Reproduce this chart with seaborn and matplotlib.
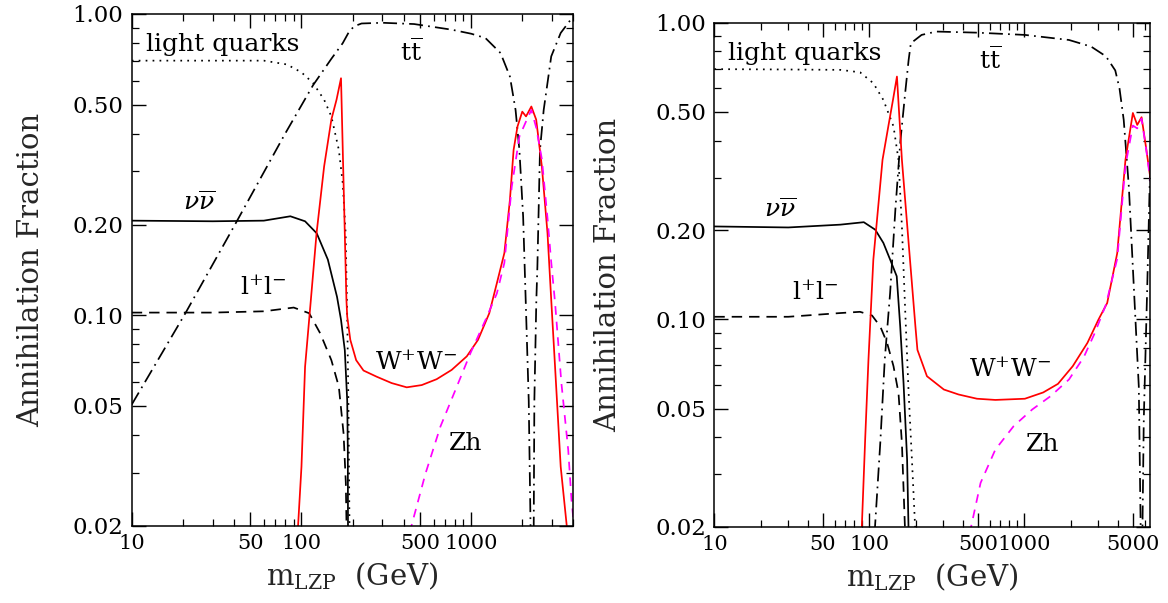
import numpy as np
import pandas as pd
import matplotlib
matplotlib.use("Agg")
import matplotlib.pyplot as plt
import seaborn as sns
from matplotlib.ticker import FixedLocator, FixedFormatter, NullFormatter

# ---------------- data ----------------
# Left panel
lq_L_x = [10, 30, 60, 82, 100, 117, 136, 150, 166, 175, 182, 186, 189, 192]
lq_L_y = [0.70, 0.70, 0.70, 0.68, 0.64, 0.59, 0.519, 0.457, 0.354, 0.275, 0.1875, 0.099, 0.052, 0.019]

nn_L_x = [10, 30, 60, 86, 105, 123, 143, 162, 171, 180, 186, 187.5, 188]
nn_L_y = [0.206, 0.205, 0.206, 0.213, 0.205, 0.187, 0.153, 0.115, 0.0965, 0.0766, 0.052, 0.0357, 0.019]

ll_L_x = [10, 30, 60, 90, 111, 129, 150, 166, 177, 182.5, 184.5]
ll_L_y = [0.102, 0.102, 0.103, 0.106, 0.1015, 0.087, 0.0709, 0.0579, 0.0405, 0.0278, 0.019]

tt_L_x = [10, 20.6, 40, 80, 117, 150, 175, 190, 204, 226, 300, 461, 767, 1000, 1213, 1489,
          1691, 1826, 1923, 2023, 2095, 2183, 2240, 2290, 2335, 2356, 2420, 2455, 2543,
          2674, 2962, 3368, 3925, 4000]
tt_L_y = [0.0505, 0.101, 0.197, 0.40, 0.58, 0.71, 0.80, 0.87, 0.91, 0.93, 0.935, 0.926, 0.887,
          0.86, 0.832, 0.742, 0.62, 0.48, 0.354, 0.213, 0.112, 0.052, 0.019, 0.012, 0.019,
          0.052, 0.112, 0.145, 0.354, 0.48, 0.723, 0.865, 0.97, 0.975]

ww_L_x = [95, 100, 105, 113.6, 122.7, 136, 150, 161, 171, 184, 186, 194, 210, 232, 277, 340,
          417, 511, 626, 767, 942, 1097, 1278, 1416, 1568, 1691, 1778, 1874, 2000, 2104,
          2262, 2415, 2608, 2816, 2962, 3120, 3368, 3690]
ww_L_y = [0.019, 0.0314, 0.0674, 0.1125, 0.187, 0.312, 0.446, 0.52, 0.612, 0.1125, 0.099,
          0.0828, 0.0709, 0.0655, 0.0625, 0.0595, 0.0576, 0.0586, 0.0613, 0.0658, 0.073,
          0.0828, 0.1015, 0.1276, 0.1607, 0.2415, 0.354, 0.423, 0.474, 0.457, 0.493, 0.446,
          0.312, 0.187, 0.1125, 0.0674, 0.0314, 0.019]

zh_L_x = [434, 538, 659, 808, 990, 1215, 1416, 1568, 1734, 1923, 2128, 2262, 2415, 2608,
          2816, 2962, 3120, 3400, 3730, 3900, 4000]
zh_L_y = [0.019, 0.0298, 0.0427, 0.0565, 0.0748, 0.0965, 0.118, 0.149, 0.267, 0.392, 0.446,
          0.48, 0.42, 0.33, 0.21, 0.15, 0.11, 0.0595, 0.0357, 0.0243, 0.021]

# Right panel
lq_R_x = [10, 30, 65, 87, 106, 123, 143, 154, 162, 170, 179, 188, 198]
lq_R_y = [0.697, 0.695, 0.693, 0.68, 0.625, 0.549, 0.447, 0.345, 0.2056, 0.108, 0.0565, 0.0337, 0.019]

nn_R_x = [10, 30, 65, 92, 109, 123, 136, 150, 158, 166, 175, 179]
nn_R_y = [0.2056, 0.204, 0.2085, 0.2125, 0.2005, 0.181, 0.159, 0.1397, 0.0946, 0.061, 0.0337, 0.019]

ll_R_x = [10, 30, 65, 87, 104, 117.5, 130, 143, 154, 162, 170]
ll_R_y = [0.102, 0.102, 0.105, 0.106, 0.103, 0.0946, 0.0833, 0.0695, 0.0565, 0.0383, 0.019]

tt_R_x = [108, 117.5, 125.6, 136, 147, 158, 170, 179, 185, 217, 270, 494, 1006, 1936, 2692,
          3350, 3850, 4100, 4365, 4710, 5070, 5460, 5620, 5690, 5760, 5880, 6190, 6430, 6500]
tt_R_y = [0.019, 0.0383, 0.0732, 0.1227, 0.234, 0.393, 0.578, 0.748, 0.852, 0.909, 0.933,
          0.925, 0.909, 0.874, 0.83, 0.77, 0.69, 0.60, 0.47, 0.28, 0.129, 0.0594, 0.019,
          0.015, 0.019, 0.046, 0.129, 0.296, 0.32]

ww_R_x = [89, 94, 98.6, 106, 121.5, 133, 142, 150.5, 162, 179, 198, 204, 235, 302, 376, 494,
          649, 1006, 1321, 1644, 2047, 2547, 3000, 3415, 3963, 4480, 5000, 5335, 5690, 6110, 6500]
ww_R_y = [0.019, 0.04, 0.0732, 0.159, 0.345, 0.453, 0.55, 0.658, 0.345, 0.181, 0.0946, 0.0789,
          0.0643, 0.058, 0.0558, 0.054, 0.0535, 0.054, 0.0567, 0.0606, 0.0695, 0.0833, 0.0998,
          0.1135, 0.167, 0.345, 0.496, 0.452, 0.48, 0.373, 0.296]

zh_R_x = [443, 521, 649, 853, 1123, 1474, 1936, 2410, 2843, 3350, 3963, 4480, 5000, 5335,
          5690, 6110, 6500]
zh_R_y = [0.019, 0.0281, 0.0364, 0.0437, 0.0497, 0.0551, 0.0627, 0.0745, 0.09, 0.112, 0.16,
          0.33, 0.45, 0.44, 0.475, 0.37, 0.29]

# ticks
xt_L = [10, 50, 100, 500, 1000]
xt_R = [10, 50, 100, 500, 1000, 5000]
yt = [0.02, 0.05, 0.10, 0.20, 0.50, 1.00]
yt_labels = ["0.02", "0.05", "0.10", "0.20", "0.50", "1.00"]
y_minor = [0.03, 0.04, 0.06, 0.07, 0.08, 0.09, 0.3, 0.4, 0.6, 0.7, 0.8, 0.9]

# ---------------- style ----------------
sns.set_theme(style="ticks")
plt.rcParams["font.family"] = ["DejaVu Serif"]
plt.rcParams["mathtext.fontset"] = "dejavuserif"

fig = plt.figure(figsize=(11.68, 6.03), dpi=100)
axL = fig.add_axes([0.1128, 0.1282, 0.3781, 0.8486])
axR = fig.add_axes([0.6116, 0.1265, 0.3730, 0.8360])

DOT = (0, (1.0, 3.0))
DASH = (0, (6, 4))
DASHDOT = (0, (8, 3, 1, 3))
MDASH = (0, (5, 4))


def panel(ax, xmax, xt, data, labels):
    ax.set_xscale("log")
    ax.set_yscale("log")
    for x, y, color, ls in data:
        sns.lineplot(x=x, y=y, ax=ax, color=color, linestyle=ls, linewidth=1.25,
                     sort=False, estimator=None)
    ax.set_xlim(10, xmax)
    ax.set_ylim(0.02, 1.0)
    ax.xaxis.set_major_locator(FixedLocator(xt))
    ax.xaxis.set_major_formatter(FixedFormatter([str(v) for v in xt]))
    mx = [m * 10 ** e for e in range(1, 4) for m in (2, 3, 4, 6, 7, 8, 9)]
    ax.xaxis.set_minor_locator(FixedLocator([v for v in mx if v <= xmax]))
    ax.xaxis.set_minor_formatter(NullFormatter())
    ax.yaxis.set_major_locator(FixedLocator(yt))
    ax.yaxis.set_major_formatter(FixedFormatter(yt_labels))
    ax.yaxis.set_minor_locator(FixedLocator(y_minor))
    ax.yaxis.set_minor_formatter(NullFormatter())
    ax.tick_params(which="both", direction="in", top=True, right=True, colors="black", pad=6)
    ax.tick_params(axis="x", labelsize=15)
    ax.tick_params(axis="y", labelsize=16.5)
    ax.tick_params(which="major", length=10, width=1.0)
    ax.tick_params(which="minor", length=5, width=0.9)
    for s in ax.spines.values():
        s.set_color("black")
        s.set_linewidth(1.1)
    ax.set_xlabel(r"m$_{\mathrm{LZP}}$  (GeV)", fontsize=21, labelpad=5)
    ax.set_ylabel("Annihilation Fraction", fontsize=21)
    for (tx, ty, s, ha) in labels:
        ax.text(tx, ty, s, fontsize=18, ha=ha, va="center", color="black")


panel(axL, 4000, xt_L,
      [(lq_L_x, lq_L_y, "black", DOT), (nn_L_x, nn_L_y, "black", "-"),
       (ll_L_x, ll_L_y, "black", DASH), (tt_L_x, tt_L_y, "black", DASHDOT),
       (ww_L_x, ww_L_y, "red", "-"), (zh_L_x, zh_L_y, "magenta", MDASH)],
      [(12.2, 0.79, "light quarks", "left"),
       (445, 0.752, r"$\mathrm{t}\overline{\mathrm{t}}$", "center"),
       (24.9, 0.236, r"$\nu\overline{\nu}$", "center"),
       (59.2, 0.123, r"l$^{+}$l$^{-}$", "center"),
       (473, 0.0692, r"W$^{+}$W$^{-}$", "center"),
       (927, 0.0376, "Zh", "center")])
axL.yaxis.set_label_coords(-0.196, 0.5)

panel(axR, 6450, xt_R,
      [(lq_R_x, lq_R_y, "black", DOT), (nn_R_x, nn_R_y, "black", "-"),
       (ll_R_x, ll_R_y, "black", DASH), (tt_R_x, tt_R_y, "black", DASHDOT),
       (ww_R_x, ww_R_y, "red", "-"), (zh_R_x, zh_R_y, "magenta", MDASH)],
      [(12.3, 0.789, "light quarks", "left"),
       (604, 0.748, r"$\mathrm{t}\overline{\mathrm{t}}$", "center"),
       (26.5, 0.234, r"$\nu\overline{\nu}$", "center"),
       (44.5, 0.123, r"l$^{+}$l$^{-}$", "center"),
       (807, 0.0678, r"W$^{+}$W$^{-}$", "center"),
       (1306, 0.0379, "Zh", "center")])
axR.yaxis.set_label_coords(-0.212, 0.5)

fig.savefig("out.png", dpi=100)
